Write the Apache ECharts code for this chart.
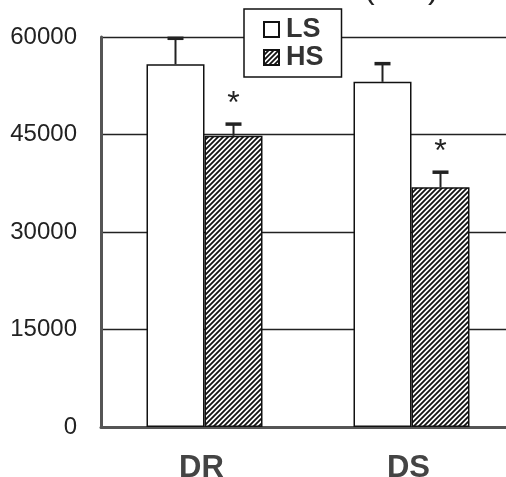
<!DOCTYPE html>
<html>
<head>
<meta charset="utf-8">
<script src="https://cdn.jsdelivr.net/npm/echarts@6/dist/echarts.min.js"></script>
<style>html,body{margin:0;padding:0;background:#fff;}#c{width:506px;height:477px;}</style>
</head>
<body>
<div id="c"></div>
<script>
var categories = ['DR', 'DS'];
var seriesNames = ['LS', 'HS'];
var lsValues = [55800, 53100];
var hsValues = [44800, 36900];
var lsErr = [4000, 2800];
var hsErr = [1800, 2300];
var hsSig = ['*', '*'];
var yTicks = [0, 15000, 30000, 45000, 60000];

function makeHatch() {
  var s = 5;
  var c = document.createElement('canvas');
  c.width = s; c.height = s;
  var g = c.getContext('2d');
  g.fillStyle = '#fff';
  g.fillRect(0, 0, s, s);
  g.strokeStyle = '#111';
  g.lineWidth = 1.8;
  g.beginPath();
  g.moveTo(0, s); g.lineTo(s, 0);
  g.moveTo(-1, 1); g.lineTo(1, -1);
  g.moveTo(s - 1, s + 1); g.lineTo(s + 1, s - 1);
  g.stroke();
  return c;
}
var hatch = { image: makeHatch(), repeat: 'repeat' };

var BW = 58;
function errData(vals, errs, sig) {
  return vals.map(function (v, i) { return [i, v, v + errs[i], sig ? sig[i] : '']; });
}
function errRender(side) {
  return function (params, api) {
    var c0 = api.coord([api.value(0), api.value(1)]);
    var c1 = api.coord([api.value(0), api.value(2)]);
    var x = c0[0] + side * BW / 2;
    var children = [
      { type: 'line', shape: { x1: x, y1: c0[1], x2: x, y2: c1[1] }, style: { stroke: '#222', lineWidth: 2 } },
      { type: 'line', shape: { x1: x - 8, y1: c1[1], x2: x + 8, y2: c1[1] }, style: { stroke: '#222', lineWidth: 3.5 } }
    ];
    var s = api.value(3);
    if (s) {
      children.push({ type: 'text', style: { text: s, x: x, y: c1[1] - 20, fill: '#222', font: '32px "Liberation Sans", Arial, sans-serif', align: 'center', verticalAlign: 'middle' } });
    }
    return { type: 'group', children: children };
  };
}

var chart = echarts.init(document.getElementById('c'));
chart.setOption({
  animation: false,
  backgroundColor: '#fff',
  title: {
    text: '(      )', left: 359, top: -32,
    textStyle: { fontSize: 32, fontWeight: 'normal', color: '#222', fontFamily: 'Liberation Sans' }
  },
  grid: { left: 101, width: 414, top: 37, bottom: 50, containLabel: false, outerBoundsMode: 'none' },
  legend: {
    orient: 'vertical', left: 244, top: 9,
    data: seriesNames,
    icon: 'rect',
    backgroundColor: '#fff', borderColor: '#111', borderWidth: 1.5,
    padding: [7, 18, 6, 19], itemGap: 1,
    itemWidth: 15, itemHeight: 15,
    textStyle: { fontSize: 27, fontWeight: 'bold', color: '#333', fontFamily: 'Liberation Sans', padding: [0, 0, 0, 2] },
    z: 10
  },
  xAxis: {
    type: 'category', data: categories,
    axisLine: { lineStyle: { color: '#555', width: 3 } },
    axisTick: { inside: true, length: 6, lineStyle: { color: '#555', width: 3 } },
    axisLabel: { fontSize: 31, fontWeight: 'bold', color: '#444', fontFamily: 'Liberation Sans', margin: 26, padding: [0, 6, 0, 0] }
  },
  yAxis: {
    type: 'value', min: yTicks[0], max: yTicks[yTicks.length - 1], interval: 15000,
    axisLine: { show: true, lineStyle: { color: '#555', width: 3 } },
    axisTick: { show: false },
    splitLine: { lineStyle: { color: '#222', width: 1.3 } },
    axisLabel: { fontSize: 24, color: '#222', fontFamily: 'Liberation Sans', margin: 24,
      formatter: function (v) { return String(v); } }
  },
  series: [
    { name: 'LS', type: 'bar', data: lsValues, barWidth: BW, barGap: '0%',
      itemStyle: { color: '#fff', borderColor: '#111', borderWidth: 1.5 } },
    { name: 'HS', type: 'bar', data: hsValues, barWidth: BW, barGap: '0%',
      itemStyle: { color: hatch, borderColor: '#111', borderWidth: 1.5 } },
    { type: 'custom', data: errData(lsValues, lsErr), renderItem: errRender(-1), z: 5, silent: true },
    { type: 'custom', data: errData(hsValues, hsErr, hsSig), renderItem: errRender(1), z: 5, silent: true }
  ]
});
</script>
</body>
</html>
